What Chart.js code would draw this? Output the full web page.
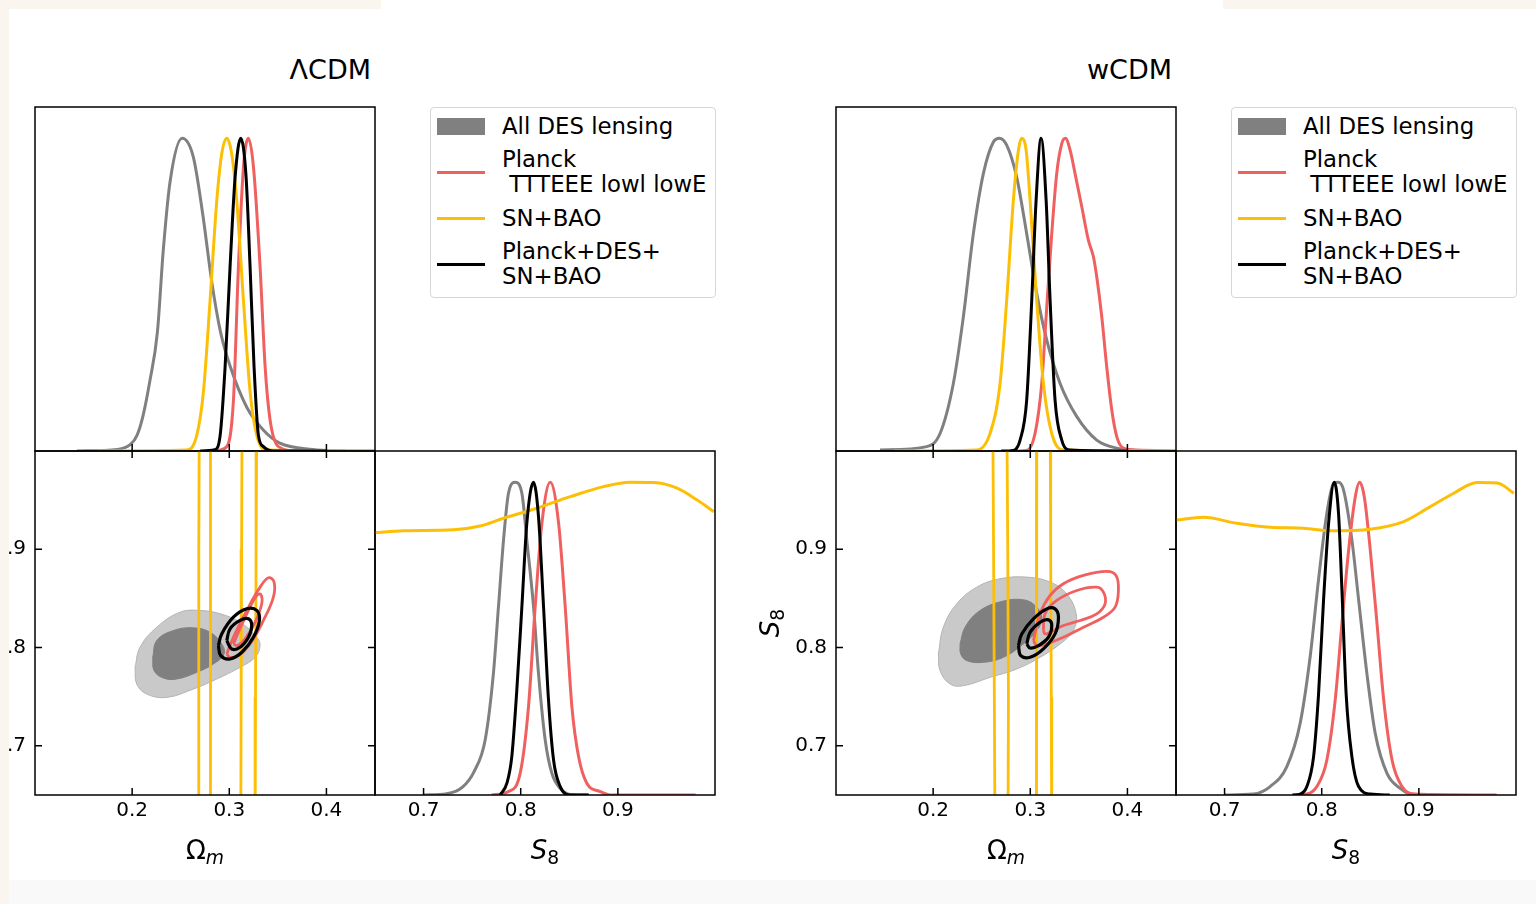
<!DOCTYPE html>
<html>
<head>
<meta charset="utf-8">
<script src="https://cdn.jsdelivr.net/npm/chart.js@4.4.0/dist/chart.umd.min.js"></script>
<style>
  html, body { margin: 0; padding: 0; }
  body { width: 1536px; height: 904px; background: #faf5ee; position: relative; overflow: hidden;
         font-family: "DejaVu Sans", sans-serif; color: #000; }
  #topgap { position: absolute; left: 381px; top: 0; width: 842px; height: 9px; background: #fff; }
  #sheet { position: absolute; left: 9px; top: 9px; width: 1527px; height: 871px; background: #fff; overflow: hidden; }
  #foot { position: absolute; left: 9px; top: 880px; width: 1527px; height: 24px; background: #f9f9f9; }
  canvas { position: absolute; }
  .txt { position: absolute; font-size: 26px; line-height: 30px; white-space: nowrap; }
  .txt sub { font-size: 0.72em; vertical-align: -0.28em; line-height: 0; }
  .legend { position: absolute; box-sizing: border-box; width: 286px; height: 191px;
            border: 1px solid #d6d6d6; border-radius: 4px; background: #fff;
            padding: 5.5px 0 0 6px; display: flex; flex-direction: column; gap: 8.5px; }
  .row { display: flex; align-items: center; }
  .swatch { width: 48px; flex: none; }
  .label { margin-left: 17px; font-size: 22.8px; line-height: 25px; white-space: pre; }
</style>
</head>
<body>
<div id="topgap"></div>
<div id="sheet"></div>
<div id="foot"></div>
<script>
// tick values
const omTicks = [0.2, 0.3, 0.4];
const s8Ticks = [0.7, 0.8, 0.9];

// legend
const seriesNames = ["All DES lensing", "Planck\n TTTEEE lowl lowE", "SN+BAO", "Planck+DES+\nSN+BAO"];
const seriesColors = ["#808080", "#f0605f", "#fcbf05", "#000000"];
const desLight = "#c9c9c9";

// ---- LambdaCDM: 1D Omega_m  [Om, P/Pmax]
const lcdmOmDes = [[.143,0],[.185,.005],[.198,.02],[.205,.05],[.211,.11],[.218,.22],[.226,.38],[.232,.64],[.239,.86],[.2514,1],[.263,.94],[.273,.75],[.282,.54],[.291,.38],[.301,.27],[.318,.14],[.335,.067],[.352,.025],[.386,.005],[.42,0]];
const lcdmOmPlanck = [[.285,0],[.2974,.014],[.3043,.163],[.3094,.589],[.3146,.908],[.3197,1],[.3249,.908],[.3317,.589],[.3369,.269],[.3420,.099],[.3506,.014],[.37,0],[.45,0]];
const lcdmOmSn = [[.165,0],[.2562,.003],[.2665,.05],[.2734,.19],[.2802,.48],[.2871,.80],[.2922,.95],[.2974,1],[.3025,.95],[.3077,.80],[.3146,.48],[.3214,.19],[.3283,.05],[.3386,.003],[.45,0]];
const lcdmOmAll = [[.27,0],[.2850,.004],[.2906,.05],[.2957,.269],[.3008,.589],[.3060,.876],[.3118,1],[.3173,.876],[.3214,.589],[.3255,.269],[.3300,.05],[.3352,.014],[.345,0],[.40,0]];

// ---- LambdaCDM: 1D S8
const lcdmS8Des = [[.70,0],[.7238,.004],[.7400,.025],[.7520,.075],[.7634,.176],[.7719,.389],[.7771,.602],[.7823,.815],[.7874,.965],[.7943,1],[.8012,.965],[.8063,.815],[.8132,.602],[.8183,.389],[.8252,.176],[.8321,.069],[.8407,.021],[.8510,.002],[.87,0]];
const lcdmS8Planck = [[.77,0],[.7874,.011],[.7994,.069],[.8080,.282],[.8149,.602],[.8218,.869],[.8304,1],[.8390,.869],[.8458,.602],[.8527,.282],[.8596,.122],[.8682,.037],[.8819,.011],[.8922,0],[.98,0]];
const lcdmS8Sn = [[.65,.839],[.6792,.845],[.7307,.848],[.7582,.860],[.7823,.885],[.8166,.917],[.8510,.954],[.8854,.986],[.9128,1],[.9369,.999],[.9610,.981],[.9816,.943],[.9988,.906]];
const lcdmS8All = [[.7788,0],[.7857,.037],[.7908,.122],[.7960,.336],[.8012,.602],[.8063,.869],[.8132,1],[.8183,.890],[.8235,.602],[.8286,.304],[.8338,.112],[.8407,.027],[.8510,0],[.87,0]];

// ---- LambdaCDM: 2D contours [Om, S8]
const lcdmDesOuter = [[.2030,.7799],[.2081,.8003],[.2253,.8207],[.2493,.8360],[.2699,.8378],[.2905,.8344],[.3111,.8258],[.3283,.8105],[.3317,.8020],[.3266,.7901],[.3111,.7799],[.2871,.7680],[.2630,.7578],[.2356,.7493],[.2150,.7527],[.2047,.7629]];
const lcdmDesInner = [[.2212,.7901],[.2253,.8071],[.2424,.8173],[.2630,.8201],[.2802,.8156],[.2922,.8037],[.2946,.7935],[.2836,.7833],[.2665,.7748],[.2459,.7680],[.2322,.7690],[.2226,.7765]];
const lcdmPlanckOuter = [[.2974,.7935],[.3042,.8105],[.3180,.8378],[.3317,.8615],[.3403,.8711],[.3461,.8667],[.3454,.8514],[.3351,.8276],[.3214,.8037],[.3094,.7918],[.3008,.7901]];
const lcdmPlanckInner = [[.3042,.8037],[.3094,.8156],[.3197,.8378],[.3283,.8531],[.3324,.8541],[.3334,.8446],[.3266,.8258],[.3163,.8088],[.3084,.8020]];
const lcdmSnOuter = [[.2682,.60],[.2684,.75],[.2688,.90],[.2692,1.05],[.3283,1.05],[.3276,.90],[.3270,.75],[.3266,.60]];
const lcdmSnInner = [[.2802,.60],[.2804,.75],[.2806,.90],[.2809,1.05],[.3132,1.05],[.3127,.90],[.3122,.75],[.3118,.60]];
const lcdmAllOuter = [[.2888,.8020],[.2922,.8139],[.3042,.8309],[.3180,.8395],[.3283,.8378],[.3310,.8276],[.3248,.8105],[.3129,.7952],[.3008,.7884],[.2912,.7918]];
const lcdmAllInner = [[.2974,.8071],[.3008,.8191],[.3111,.8276],[.3197,.8293],[.3231,.8224],[.3197,.8105],[.3111,.8003],[.3025,.7986]];

// ---- wCDM: 1D Omega_m
const wcdmOmDes = [[.1453,.003],[.1934,.014],[.2071,.056],[.2208,.216],[.2311,.429],[.2414,.695],[.2517,.887],[.2620,.988],[.2682,1],[.2757,.978],[.2860,.876],[.2963,.695],[.3066,.504],[.3169,.355],[.3307,.216],[.3479,.110],[.3684,.035],[.3890,.009],[.42,0]];
const wcdmOmPlanck = [[.28,0],[.2963,.002],[.3049,.056],[.3118,.216],[.3163,.429],[.3221,.695],[.3272,.887],[.3324,.983],[.3362,1],[.3410,.962],[.3461,.887],[.3530,.781],[.3598,.674],[.3650,.621],[.3684,.557],[.3736,.429],[.3787,.269],[.3839,.131],[.3890,.046],[.3959,.009],[.4096,.003],[.45,0]];
const wcdmOmSn = [[.16,0],[.2449,.003],[.2586,.056],[.2689,.216],[.2757,.482],[.2826,.802],[.2878,.962],[.2912,1],[.2957,.962],[.2998,.802],[.3066,.482],[.3135,.216],[.3221,.056],[.3341,.003],[.45,0]];
const wcdmOmAll = [[.27,0],[.2826,.002],[.2895,.035],[.2963,.163],[.3015,.482],[.3060,.802],[.3111,1],[.3163,.802],[.3204,.482],[.3255,.163],[.3324,.035],[.3410,.003],[.40,0]];

// ---- wCDM: 1D S8
const wcdmS8Des = [[.70,0],[.7297,.003],[.7469,.027],[.7641,.091],[.7778,.229],[.7881,.442],[.7967,.688],[.8053,.901],[.8122,.997],[.8173,1],[.8225,.975],[.8311,.815],[.8380,.624],[.8465,.389],[.8551,.197],[.8672,.069],[.8809,.021],[.8912,.003],[.91,0]];
const wcdmS8Planck = [[.77,0],[.7847,.003],[.7950,.027],[.8053,.112],[.8139,.304],[.8208,.549],[.8277,.783],[.8346,.954],[.8390,1],[.8438,.954],[.8500,.783],[.8569,.549],[.8638,.304],[.8724,.112],[.8827,.027],[.8947,.003],[.98,0]];
const wcdmS8Sn = [[.65,.879],[.6782,.888],[.7125,.869],[.7469,.856],[.7813,.853],[.8088,.845],[.8500,.850],[.8844,.874],[.9118,.922],[.9359,.965],[.9600,.999],[.9806,.998],[.9978,.965]];
const wcdmS8All = [[.77,0],[.7778,.003],[.7847,.027],[.7916,.122],[.7967,.320],[.8019,.624],[.8071,.869],[.8129,1],[.8173,.901],[.8208,.656],[.8252,.320],[.8311,.122],[.8380,.027],[.8500,.003],[.87,0]];

// ---- wCDM: 2D contours
const wcdmDesOuter = [[.2054,.7935],[.2105,.8207],[.2243,.8445],[.2449,.8615],[.2689,.8700],[.2964,.8717],[.3204,.8666],[.3375,.8547],[.3472,.8343],[.3444,.8173],[.3307,.8037],[.3101,.7901],[.2861,.7782],[.2586,.7697],[.2311,.7612],[.2174,.7629],[.2071,.7765]];
const wcdmDesInner = [[.2277,.8037],[.2329,.8207],[.2483,.8377],[.2723,.8473],[.2929,.8486],[.3049,.8428],[.3118,.8309],[.3067,.8173],[.2929,.8037],[.2723,.7901],[.2517,.7850],[.2346,.7867],[.2284,.7935]];
const wcdmPlanckOuter = [[.3032,.8071],[.3101,.8343],[.3204,.8530],[.3341,.8649],[.3547,.8734],[.3787,.8775],[.3883,.8734],[.3907,.8581],[.3873,.8411],[.3753,.8309],[.3547,.8207],[.3341,.8105],[.3170,.8037],[.3067,.8020]];
const wcdmPlanckInner = [[.3135,.8173],[.3152,.8343],[.3272,.8479],[.3479,.8581],[.3684,.8615],[.3753,.8564],[.3770,.8445],[.3684,.8343],[.3513,.8275],[.3341,.8224],[.3204,.8156],[.3152,.8139]];
const wcdmSnOuter = [[.2637,.60],[.2630,.75],[.2622,.90],[.2613,1.05],[.3204,1.05],[.3210,.90],[.3216,.75],[.3221,.60]];
const wcdmSnInner = [[.2770,.60],[.2775,.75],[.2768,.90],[.2758,1.05],[.3067,1.05],[.3060,.85],[.3064,.70],[.3067,.60]];
const wcdmAllOuter = [[.2878,.8020],[.2912,.8139],[.3032,.8292],[.3170,.8394],[.3255,.8394],[.3290,.8309],[.3255,.8139],[.3135,.7986],[.2998,.7901],[.2902,.7918]];
const wcdmAllInner = [[.2964,.8037],[.2998,.8156],[.3101,.8258],[.3187,.8282],[.3221,.8224],[.3187,.8105],[.3084,.8020],[.2998,.7996]];

// layout (page pixels)
const SHEET = 9;
const PW = 340, PH = 344, TOP = 107, MID = 451;
const sheet = document.getElementById("sheet");

Chart.defaults.font.family = "'DejaVu Sans', sans-serif";
Chart.defaults.font.size = 20;
Chart.defaults.color = "#000";

// box + inward ticks, matplotlib style
const framePlugin = {
  id: "frame",
  afterDatasetsDraw(chart, args, opts) {
    const { ctx, chartArea: a, scales } = chart;
    const len = 7;
    ctx.save();
    ctx.strokeStyle = "#000";
    ctx.lineWidth = 1.5;
    ctx.strokeRect(a.left, a.top, a.right - a.left, a.bottom - a.top);
    ctx.beginPath();
    (opts.bottom || []).forEach(v => {
      const px = scales.x.getPixelForValue(v);
      ctx.moveTo(px, a.bottom); ctx.lineTo(px, a.bottom - len);
    });
    (opts.top || []).forEach(v => {
      const px = scales.x.getPixelForValue(v);
      ctx.moveTo(px, a.top); ctx.lineTo(px, a.top + len);
    });
    (opts.left || []).forEach(v => {
      const py = scales.y.getPixelForValue(v);
      ctx.moveTo(a.left, py); ctx.lineTo(a.left + len, py);
    });
    (opts.right || []).forEach(v => {
      const py = scales.y.getPixelForValue(v);
      ctx.moveTo(a.right, py); ctx.lineTo(a.right - len, py);
    });
    ctx.stroke();
    ctx.restore();
  }
};

function addCanvas(x, y, w, h) {
  const c = document.createElement("canvas");
  c.width = w; c.height = h;
  c.style.left = (x - SHEET) + "px";
  c.style.top = (y - SHEET) + "px";
  c.style.width = w + "px";
  c.style.height = h + "px";
  sheet.appendChild(c);
  return c;
}

function toXY(pts) {
  return pts.map(([x, y]) => ({ x, y }));
}

function curve(pts, color) {
  return { data: toXY(pts), showLine: true, borderColor: color, borderWidth: 3,
           pointRadius: 0, fill: false, cubicInterpolationMode: "monotone" };
}

function contour(pts, color, width, fillColor, tension) {
  return { data: toXY(pts.concat([pts[0]])), showLine: true, borderColor: color, borderWidth: width,
           backgroundColor: fillColor || "transparent", fill: fillColor ? "shape" : false,
           tension: tension, pointRadius: 0, clip: 0 };
}

function commonOptions() {
  return { responsive: false, animation: false, devicePixelRatio: 1, events: [],
           plugins: { legend: { display: false }, tooltip: { enabled: false }, title: { display: false } } };
}

// fixed-size axis so the plot box lands exactly where it should
function tickAxis(min, max, ticks, size, pad) {
  return {
    type: "linear", min, max,
    afterFit: s => {
      if (s.isHorizontal()) s.height = size; else s.width = size;
      s.paddingTop = s.paddingBottom = s.paddingLeft = s.paddingRight = 0;
    },
    afterBuildTicks: s => { s.ticks = ticks.map(v => ({ value: v })); },
    ticks: { padding: pad, autoSkip: false, maxRotation: 0, callback: v => v.toFixed(1) },
    grid: { display: false, drawTicks: false },
    border: { display: false }
  };
}

// Chart.js paints dataset 0 last, so layers are listed back to front and reversed
function drawTop(ox, layers) {
  const opts = commonOptions();
  opts.layout = { padding: 6 };
  opts.scales = {
    x: { type: "linear", min: 0.1, max: 0.45, display: false },
    y: { type: "linear", min: 0, max: 1.1, display: false }
  };
  opts.plugins.frame = { bottom: omTicks };
  new Chart(addCanvas(ox - 6, TOP - 6, PW + 12, PH + 12), {
    type: "scatter", data: { datasets: layers.reverse() }, options: opts, plugins: [framePlugin]
  });
}

function draw2D(ox, layers) {
  const opts = commonOptions();
  opts.layout = { padding: { left: 0, top: 6, right: 6, bottom: 0 } };
  opts.scales = {
    x: tickAxis(0.1, 0.45, omTicks, 50, 4),
    y: tickAxis(0.65, 1.0, s8Ticks, 80, 9)
  };
  opts.plugins.frame = { bottom: omTicks, top: omTicks, left: s8Ticks, right: s8Ticks };
  new Chart(addCanvas(ox - 80, MID - 6, 80 + PW + 6, 6 + PH + 50), {
    type: "scatter", data: { datasets: layers.reverse() }, options: opts, plugins: [framePlugin]
  });
}

function drawS8(ox, layers) {
  const opts = commonOptions();
  opts.layout = { padding: { left: 6, top: 6, right: 6, bottom: 0 } };
  opts.scales = {
    x: tickAxis(0.65, 1.0, s8Ticks, 50, 4),
    y: { type: "linear", min: 0, max: 1.1, display: false }
  };
  opts.plugins.frame = { bottom: s8Ticks };
  new Chart(addCanvas(ox + PW - 6, MID - 6, PW + 12, 6 + PH + 50), {
    type: "scatter", data: { datasets: layers.reverse() }, options: opts, plugins: [framePlugin]
  });
}

function addText(html, x, y, css) {
  const d = document.createElement("div");
  d.className = "txt";
  d.innerHTML = html;
  d.style.left = (x - SHEET) + "px";
  d.style.top = (y - SHEET) + "px";
  Object.assign(d.style, css || {});
  sheet.appendChild(d);
  return d;
}

function addLegend(lx) {
  const box = document.createElement("div");
  box.className = "legend";
  box.style.left = (lx - SHEET) + "px";
  box.style.top = (TOP - SHEET) + "px";
  seriesNames.forEach((name, i) => {
    const row = document.createElement("div");
    row.className = "row";
    const sw = document.createElement("div");
    sw.className = "swatch";
    sw.style.height = i === 0 ? "17px" : "3px";
    sw.style.background = seriesColors[i];
    const lab = document.createElement("div");
    lab.className = "label";
    lab.textContent = name;
    row.appendChild(sw);
    row.appendChild(lab);
    box.appendChild(row);
  });
  sheet.appendChild(box);
}

function triangle(ox, title, d) {
  const [gray, red, yellow, black] = seriesColors;
  drawTop(ox, [curve(d.omDes, gray), curve(d.omPlanck, red), curve(d.omSn, yellow), curve(d.omAll, black)]);
  draw2D(ox, [
    contour(d.desOuter, "#b4b4b4", 1, desLight, 0.4),
    contour(d.desInner, gray, 1, gray, 0.4),
    contour(d.snOuter, yellow, 2.8, null, 0),
    contour(d.snInner, yellow, 2.8, null, 0),
    contour(d.planckOuter, red, 2.8, null, 0.4),
    contour(d.planckInner, red, 2.8, null, 0.4),
    contour(d.allOuter, black, 3.2, null, 0.4),
    contour(d.allInner, black, 3.2, null, 0.4)
  ]);
  drawS8(ox, [curve(d.s8Des, gray), curve(d.s8Planck, red), curve(d.s8Sn, yellow), curve(d.s8All, black)]);

  addText(title, ox + PW - 204, 55, { width: "200px", textAlign: "right", fontSize: "27px" });
  addText("\u03A9<sub><i>m</i></sub>", ox + PW / 2 - 100, 835, { width: "200px", textAlign: "center" });
  addText("<i>S</i><sub>8</sub>", ox + PW * 1.5 - 100, 835, { width: "200px", textAlign: "center" });
  addText("<i>S</i><sub>8</sub>", ox - 166, MID + PH / 2 - 15,
          { width: "200px", textAlign: "center", transform: "rotate(-90deg)" });
  addLegend(ox + 395);
}

triangle(35, "\u039BCDM", {
  omDes: lcdmOmDes, omPlanck: lcdmOmPlanck, omSn: lcdmOmSn, omAll: lcdmOmAll,
  s8Des: lcdmS8Des, s8Planck: lcdmS8Planck, s8Sn: lcdmS8Sn, s8All: lcdmS8All,
  desOuter: lcdmDesOuter, desInner: lcdmDesInner, planckOuter: lcdmPlanckOuter, planckInner: lcdmPlanckInner,
  snOuter: lcdmSnOuter, snInner: lcdmSnInner, allOuter: lcdmAllOuter, allInner: lcdmAllInner
});

triangle(836, "wCDM", {
  omDes: wcdmOmDes, omPlanck: wcdmOmPlanck, omSn: wcdmOmSn, omAll: wcdmOmAll,
  s8Des: wcdmS8Des, s8Planck: wcdmS8Planck, s8Sn: wcdmS8Sn, s8All: wcdmS8All,
  desOuter: wcdmDesOuter, desInner: wcdmDesInner, planckOuter: wcdmPlanckOuter, planckInner: wcdmPlanckInner,
  snOuter: wcdmSnOuter, snInner: wcdmSnInner, allOuter: wcdmAllOuter, allInner: wcdmAllInner
});
</script>
</body>
</html>
